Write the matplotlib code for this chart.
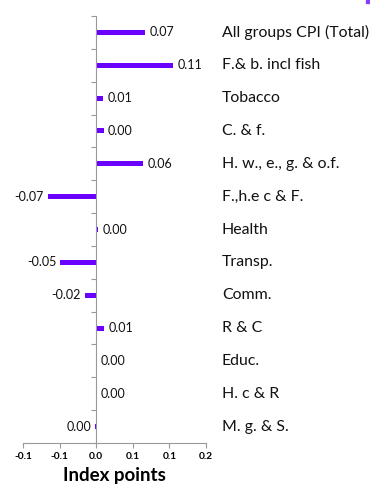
import matplotlib.pyplot as plt
from matplotlib.patches import Rectangle
from matplotlib.ticker import FixedLocator

# Data
categories = ['All groups CPI (Total)', 'F.& b. incl fish', 'Tobacco', 'C. & f.',
              'H. w., e., g. & o.f.', 'F.,h.e c & F.', 'Health', 'Transp.',
              'Comm.', 'R & C', 'Educ.', 'H. c & R', 'M. g. & S.']
values = [0.067, 0.105, 0.0095, 0.0100, 0.064, -0.066, 0.003, -0.049,
          -0.015, 0.011, 0.0, 0.0, -0.001]
value_labels = ['0.07', '0.11', '0.01', '0.00', '0.06', '-0.07', '0.00', '-0.05',
                '-0.02', '0.01', '0.00', '0.00', '0.00']
x_ticks = [-0.1, -0.05, 0.0, 0.05, 0.1, 0.15]
x_tick_labels = ['-0.1', '-0.1', '0.0', '0.1', '0.1', '0.2']

plt.rcParams['font.family'] = ['Lato', 'DejaVu Sans']

fig = plt.figure(figsize=(3.7, 4.84), dpi=100)
ax = fig.add_axes([23 / 370, 1 - 443 / 484, 183 / 370, 427 / 484])

bar_color = '#6A00FF'
pos = list(range(len(categories)))
ax.barh(pos, values, height=0.15, color=bar_color)

ax.set_xlim(-0.1, 0.15)
ax.set_ylim(len(categories) - 0.5, -0.5)

# value labels
for p, v, lab in zip(pos, values, value_labels):
    if v < 0:
        ax.annotate(lab, (v, p), xytext=(-3, 0), textcoords='offset points',
                    ha='right', va='center', fontsize=9, color='#111111')
    else:
        ax.annotate(lab, (v, p), xytext=(3, 0), textcoords='offset points',
                    ha='left', va='center', fontsize=9, color='#111111')

# category names on the right
for p, c in zip(pos, categories):
    ax.text(1.087, p, c, transform=ax.get_yaxis_transform(),
            ha='left', va='center', fontsize=11.4, color='#111111')

# axes styling
for s in ['top', 'right']:
    ax.spines[s].set_visible(False)
ax.spines['left'].set_position(('data', 0))
ax.spines['left'].set_color('#999999')
ax.spines['bottom'].set_color('#999999')

ax.yaxis.set_major_locator(FixedLocator([i - 0.5 for i in range(len(categories) + 1)]))
ax.set_yticklabels([])
ax.tick_params(axis='y', direction='out', length=3.5, color='#999999')

ax.set_xticks(x_ticks)
ax.set_xticklabels(x_tick_labels, fontweight='bold')
ax.tick_params(axis='x', direction='out', length=3.5, color='#999999',
               labelsize=7.3, pad=3)

ax.set_xlabel('Index points', fontsize=13.5, fontweight='bold', labelpad=4)

# clipped legend marker in the top-right corner
fig.patches.append(Rectangle((366 / 370, 1 - 3 / 484), 4 / 370, 3 / 484,
                             transform=fig.transFigure, color='#8A3CFF'))

fig.savefig('out.png', dpi=100)
